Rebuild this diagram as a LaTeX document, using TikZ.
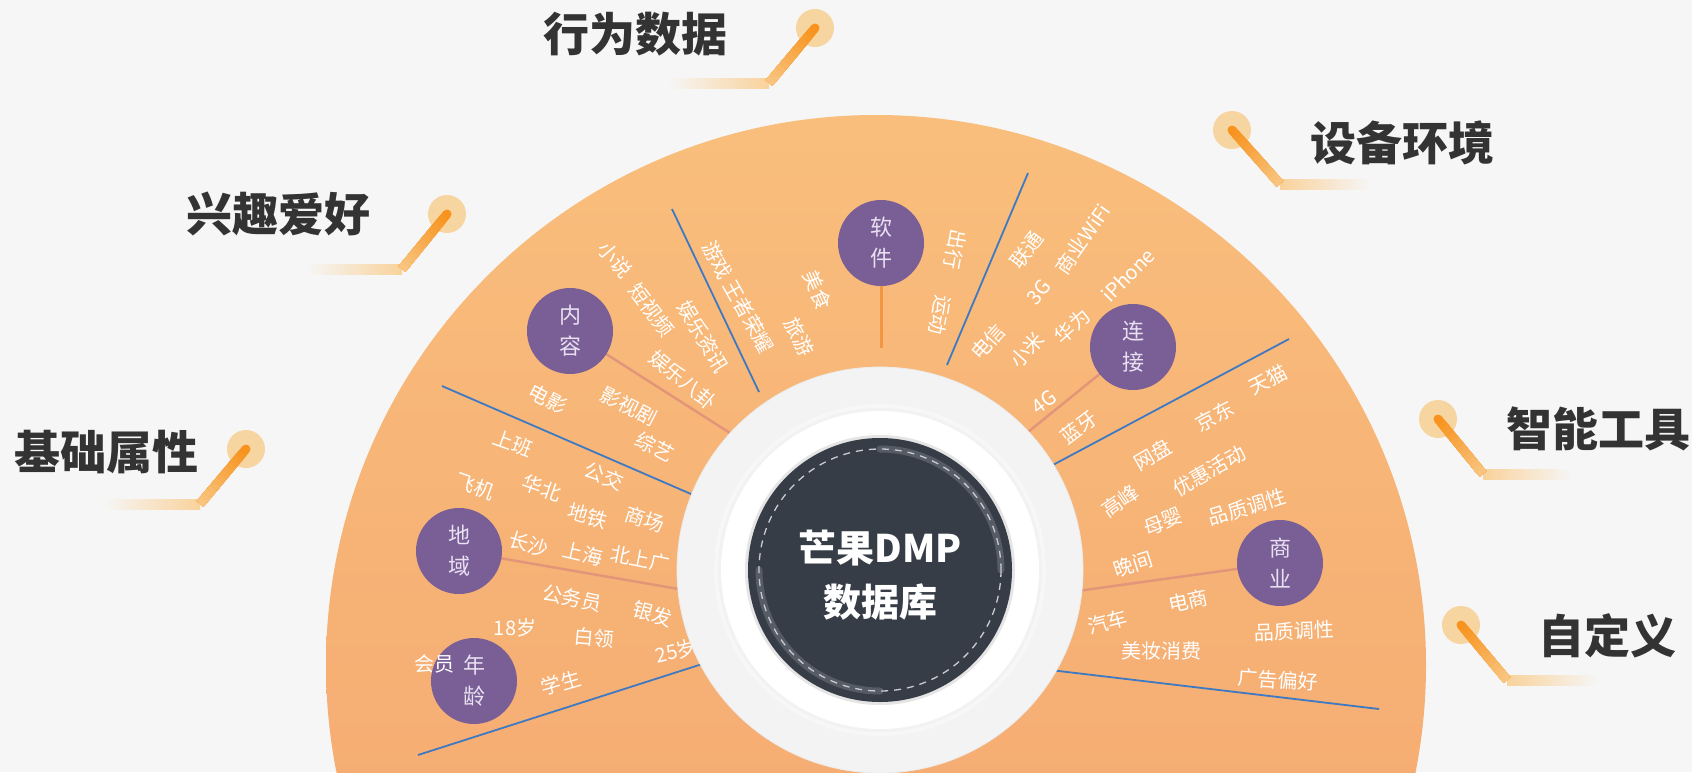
\documentclass[tikz,border=0pt]{standalone}
\usepackage{fontspec}
\usetikzlibrary{calc}
\newfontfamily\cjk{Noto Sans CJK SC}
\definecolor{bgc}{HTML}{F6F6F6}
\definecolor{orTop}{HTML}{F9BE7C}
\definecolor{orBot}{HTML}{F3A26D}
\definecolor{ringc}{HTML}{F3F3F4}
\definecolor{darkc}{HTML}{363D46}
\definecolor{purp}{HTML}{7A5E96}
\definecolor{purpTxt}{HTML}{E9E1F2}
\definecolor{blueL}{HTML}{3E79C3}
\definecolor{stemc}{HTML}{E0907A}
\definecolor{calD}{HTML}{F7931E}
\definecolor{calL}{HTML}{F9C988}
\definecolor{calB}{HTML}{F9D29B}
\definecolor{calP}{HTML}{F7D5A0}
\definecolor{titc}{HTML}{333333}
\definecolor{dashc}{HTML}{C9CDD2}
\definecolor{arcc}{HTML}{5B626B}
\tikzset{
  lab/.style={font=\cjk\fontsize{20}{20}\selectfont, text=white, inner sep=0pt},
  cir/.style={circle, fill=purp, minimum size=86pt, inner sep=0pt, align=center,
    font=\cjk\fontsize{22}{31}\selectfont, text=purpTxt},
  ttl/.style={font=\cjk\bfseries\fontsize{46}{46}\selectfont, text=titc, inner sep=0pt},
  divline/.style={draw=blueL, line width=1.8pt},
  stemline/.style={draw=stemc, line width=2.5pt, opacity=.85},
}
\newcommand\calloutline[4]{%
  \fill[calP] (#1) circle[radius=19];
  \shade[#4] ($(#2)+(0,-5)$) rectangle ($(#3)+(0,5)$);
  \foreach \i in {0,...,13}{%
    \pgfmathtruncatemacro\p{100-\i*7}%
    \pgfmathsetmacro\t{\i/14}%
    \draw[line width=9pt, draw=calD!\p!calL] ($(#1)!\t!(#2)$) -- (#2);
  }%
  \fill[calD] (#1) circle[radius=4.5];
}
\begin{document}
\begin{tikzpicture}[x=1pt,y=-1pt]
\useasboundingbox (0,0) rectangle (1692,772);
\fill[bgc] (0,0) rectangle (1692,772);
\begin{scope}
\clip (0,0) rectangle (1692,772);
\shade[top color=orTop, bottom color=orBot] (876,665) circle[radius=550];
\end{scope}
\coordinate (C0) at (880,570);

% divider lines
\coordinate (b1a) at (672,209); \coordinate (b1b) at (759,392);
\coordinate (b2a) at (1028,173); \coordinate (b2b) at (947,365);
\coordinate (b3a) at (1289,339); \coordinate (b3b) at (1051,466);
\coordinate (b4a) at (1025,667); \coordinate (b4b) at (1379,709);
\coordinate (b5a) at (442,386); \coordinate (b5b) at (691,494);
\coordinate (b6a) at (418,755); \coordinate (b6b) at (721,658);
\draw[divline] (b1a) -- (b1b);
\draw[divline] (b2a) -- (b2b);
\draw[divline] (b3a) -- (b3b);
\draw[divline] (b4a) -- (b4b);
\draw[divline] (b5a) -- (b5b);
\draw[divline] (b6a) -- (b6b);

% stems
\coordinate (s1) at (881,348);
\coordinate (s2) at (730,433);
\coordinate (s3) at (1028,432);
\coordinate (s4) at (690,591);
\coordinate (s5) at (1063,593);
\coordinate (q1) at (881,243);
\coordinate (q2) at (570,331);
\coordinate (q3) at (1133,347);
\coordinate (q4) at (459,551);
\coordinate (q5) at (1280,563);
\coordinate (q6) at (474,681);
\draw[stemline, draw=calD!70!stemc, line width=3pt] (q1) -- (s1);
\draw[stemline] (q2) -- (s2);
\draw[stemline] (q3) -- (s3);
\draw[stemline] (q4) -- (s4);
\draw[stemline] (q5) -- (s5);

% labels: content sector
\node[lab, rotate=-50] (l1) at (615,260) {小说};
\node[lab, rotate=-53] (l2) at (652,310) {短视频};
\node[lab, rotate=-59] (l3) at (703,337) {娱乐资讯};
\node[lab, rotate=-61] (l4) at (738,297) {游戏 王者荣耀};
\node[lab, rotate=-40] (l5) at (683,380) {娱乐八卦};
\node[lab, rotate=-28] (l6) at (548,399) {电影};
\node[lab, rotate=-27] (l7) at (629,406) {影视剧};
\node[lab, rotate=-28] (l8) at (655,447) {综艺};
% software sector
\node[lab, rotate=-66] (l9) at (818,290) {美食};
\node[lab, rotate=-63] (l10) at (799,337) {旅游};
\node[lab, rotate=-100] (l11) at (955,250) {出行};
\node[lab, rotate=-100] (l12) at (940,315) {运动};
% connection sector
\node[lab, rotate=48] (l13) at (988,342) {电信};
\node[lab, rotate=52] (l14) at (1027,250) {联通};
\node[lab, rotate=50] (l15) at (1039,292) {3G};
\node[lab, rotate=55] (l16) at (1083,239) {商业WiFi};
\node[lab, rotate=48] (l17) at (1027,350) {小米};
\node[lab, rotate=42] (l18) at (1072,326) {华为};
\node[lab, rotate=45] (l19) at (1128,275) {iPhone};
\node[lab, rotate=37] (l20) at (1044,402) {4G};
\node[lab, rotate=37] (l21) at (1079,427) {蓝牙};
% business sector
\node[lab, rotate=27] (l22) at (1268,380) {天猫};
\node[lab, rotate=28] (l23) at (1215,416) {京东};
\node[lab, rotate=30] (l24) at (1153,455) {网盘};
\node[lab, rotate=30] (l25) at (1209,471) {优惠活动};
\node[lab, rotate=35] (l26) at (1120,501) {高峰};
\node[lab, rotate=22] (l27) at (1163,522) {母婴};
\node[lab, rotate=17] (l28) at (1247,507) {品质调性};
\node[lab, rotate=18] (l29) at (1133,564) {晚间};
\node[lab, rotate=12] (l30) at (1188,601) {电商};
\node[lab, rotate=15] (l31) at (1108,622) {汽车};
\node[lab, rotate=2] (l32) at (1294,631) {品质调性};
\node[lab] (l33) at (1161,651) {美妆消费};
\node[lab, rotate=-4] (l34) at (1278,680) {广告偏好};
% region / age sector
\node[lab, rotate=-20] (l35) at (513,443) {上班};
\node[lab, rotate=-22] (l36) at (604,476) {公交};
\node[lab, rotate=-20] (l37) at (475,486) {飞机};
\node[lab, rotate=-19] (l38) at (542,488) {华北};
\node[lab, rotate=-16] (l39) at (588,516) {地铁};
\node[lab, rotate=-18] (l40) at (645,519) {商场};
\node[lab, rotate=-17] (l41) at (529,544) {长沙};
\node[lab, rotate=-13] (l42) at (583,554) {上海};
\node[lab, rotate=-11] (l43) at (640,559) {北上广};
\node[lab, rotate=-12] (l44) at (572,598) {公务员};
\node[lab, rotate=-16] (l45) at (653,614) {银发};
\node[lab] (l46) at (515,628) {18岁};
\node[lab, rotate=-5] (l47) at (594,638) {白领};
\node[lab, rotate=14] (l48) at (676,651) {25岁};
\node[lab, rotate=16] (l49) at (561,683) {学生};

% purple circles
\node[cir] (n1) at (q1) {软\\件};
\node[cir] (n2) at (q2) {内\\容};
\node[cir] (n3) at (q3) {连\\接};
\node[cir] (n4) at (q4) {地\\域};
\node[cir] (n5) at (q5) {商\\业};
\node[cir] (n6) at (q6) {年\\龄};
\node[lab] (l50) at (434,664) {会员};

% rings
\fill[ringc] (C0) circle[radius=203];
\draw[black!8, line width=0.8pt] (C0) circle[radius=203];
\fill[black!3] (C0) circle[radius=166];
\fill[black!5] (C0) circle[radius=162];
\fill[white] (C0) circle[radius=159];
\fill[black!10] (C0) circle[radius=135];
\fill[darkc] (C0) circle[radius=132];
\draw[arcc, line width=7pt, line cap=round, opacity=.85] ($(C0)+(0,-121)$) arc[start angle=-90, end angle=0, radius=121];
\draw[arcc, line width=7pt, line cap=round, opacity=.85] ($(C0)+(-121,0)$) arc[start angle=180, end angle=90, radius=121];
\draw[dashc, line width=1.3pt, dash pattern=on 7pt off 6pt] (C0) circle[radius=121];
\node[font=\cjk\bfseries\fontsize{38}{54}\selectfont, text=white, align=center, inner sep=0pt] (ctext) at (880,575) {芒果DMP\\数据库};

% callouts
\coordinate (d1) at (815,28);   \coordinate (c1) at (769,83);  \coordinate (e1) at (668,83);
\coordinate (d2) at (447,214);  \coordinate (c2) at (402,269); \coordinate (e2) at (306,269);
\coordinate (d3) at (246,449);  \coordinate (c3) at (200,504); \coordinate (e3) at (104,504);
\coordinate (d4) at (1232,130); \coordinate (c4) at (1280,184); \coordinate (e4) at (1370,184);
\coordinate (d5) at (1438,419); \coordinate (c5) at (1483,474); \coordinate (e5) at (1572,474);
\coordinate (d6) at (1461,625); \coordinate (c6) at (1507,680); \coordinate (e6) at (1598,680);
\calloutline{d1}{c1}{e1}{left color=bgc, right color=calB}
\calloutline{d2}{c2}{e2}{left color=bgc, right color=calB}
\calloutline{d3}{c3}{e3}{left color=bgc, right color=calB}
\calloutline{d4}{c4}{e4}{left color=calB, right color=bgc}
\calloutline{d5}{c5}{e5}{left color=calB, right color=bgc}
\calloutline{d6}{c6}{e6}{left color=calB, right color=bgc}
\node[ttl] (t1) at (635,34) {行为数据};
\node[ttl] (t2) at (278,214) {兴趣爱好};
\node[ttl] (t3) at (106,452) {基础属性};
\node[ttl] (t4) at (1402,143) {设备环境};
\node[ttl] (t5) at (1598,429) {智能工具};
\node[ttl] (t6) at (1607,636) {自定义};
\end{tikzpicture}
\end{document}
